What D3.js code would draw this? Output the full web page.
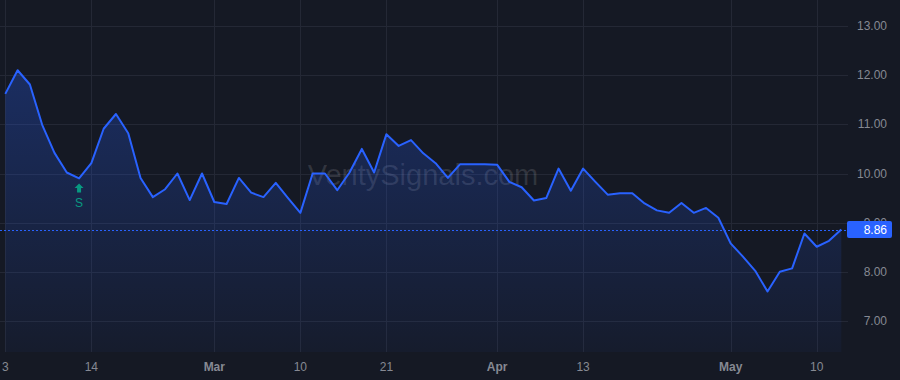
<!DOCTYPE html>
<html>
<head>
<meta charset="utf-8">
<script src="https://cdn.jsdelivr.net/npm/d3@7"></script>
<style>
  html, body { margin: 0; padding: 0; background: #151924; }
  svg { display: block; font-family: "Liberation Sans", Arial, sans-serif; }
</style>
</head>
<body>
<main></main>
<script>
const width = 900;
const height = 380;

// closing prices, one per bar
const values = [
  11.62, 12.10, 11.81, 10.99, 10.42, 10.02, 9.90, 10.21, 10.91, 11.21,
  10.82, 9.91, 9.52, 9.68, 10.00, 9.46, 10.00, 9.42, 9.38, 9.91,
  9.61, 9.52, 9.81, 9.50, 9.20, 10.00, 10.00, 9.66, 10.02, 10.50,
  10.02, 10.80, 10.56, 10.68, 10.41, 10.21, 9.91, 10.19, 10.19, 10.19,
  10.18, 9.83, 9.72, 9.45, 9.50, 10.10, 9.65, 10.10, 9.83, 9.57,
  9.60, 9.60, 9.39, 9.25, 9.20, 9.40, 9.20, 9.30, 9.10, 8.58,
  8.31, 8.02, 7.60, 8.00, 8.07, 8.78, 8.51, 8.63, 8.86
];

const tickIndex = [0, 7, 17, 24, 31, 40, 47, 59, 66];
const tickLabels = ['3', '14', 'Mar', '10', '21', 'Apr', '13', 'May', '10'];
const monthTicks = ['Mar', 'Apr', 'May'];

const priceTicks = [7, 8, 9, 10, 11, 12, 13];

const signalIndex = 6;
const signalLabel = 'S';
const lastPrice = 8.86;
const watermark = 'VeritySignals.com';

const plotRight = 848;
const plotBottom = 352;

const svg = d3.select('main')
              .append('svg')
              .attr('width', width)
              .attr('height', height);

svg.append('rect')
   .attr('width', width)
   .attr('height', height)
   .attr('fill', '#151924');

const xScale = d3.scaleLinear().domain([0, 66]).range([5.3, 816.7]);
const yScale = d3.scaleLinear().domain([7, 13]).range([321, 26]);

// gradient for the area
const defs = svg.append('defs');
const grad = defs.append('linearGradient')
                 .attr('id', 'areaFill')
                 .attr('x1', 0).attr('y1', 0)
                 .attr('x2', 0).attr('y2', 1);
grad.append('stop').attr('offset', '0%').attr('stop-color', '#2962ff').attr('stop-opacity', 0.28);
grad.append('stop').attr('offset', '100%').attr('stop-color', '#2962ff').attr('stop-opacity', 0.04);

// grid
svg.append('g')
   .selectAll('line')
   .data(priceTicks)
   .enter()
   .append('line')
   .attr('x1', 0)
   .attr('x2', plotRight)
   .attr('y1', d => Math.round(yScale(d)) + 0.5)
   .attr('y2', d => Math.round(yScale(d)) + 0.5)
   .attr('stroke', '#242835');

svg.append('g')
   .selectAll('line')
   .data(tickIndex)
   .enter()
   .append('line')
   .attr('x1', d => Math.round(xScale(d)) + 0.5)
   .attr('x2', d => Math.round(xScale(d)) + 0.5)
   .attr('y1', 0)
   .attr('y2', plotBottom)
   .attr('stroke', '#242835');

// watermark
svg.append('text')
   .attr('x', 423)
   .attr('y', 185)
   .attr('text-anchor', 'middle')
   .attr('font-size', 29)
   .attr('fill', '#ffffff')
   .attr('fill-opacity', 0.13)
   .text(watermark);

// area + line
const area = d3.area()
               .x((d, i) => xScale(i))
               .y0(plotBottom)
               .y1(d => yScale(d));

const line = d3.line()
               .x((d, i) => xScale(i))
               .y(d => yScale(d));

svg.append('path')
   .datum(values)
   .attr('d', area)
   .attr('fill', 'url(#areaFill)');

svg.append('path')
   .datum(values)
   .attr('d', line)
   .attr('fill', 'none')
   .attr('stroke', '#2962ff')
   .attr('stroke-width', 2)
   .attr('stroke-linejoin', 'round');

// last price dotted line
svg.append('line')
   .attr('x1', 0)
   .attr('x2', plotRight)
   .attr('y1', Math.round(yScale(lastPrice)) + 0.5)
   .attr('y2', Math.round(yScale(lastPrice)) + 0.5)
   .attr('stroke', '#2962ff')
   .attr('stroke-width', 1)
   .attr('stroke-dasharray', '2,2');

// signal marker
const sx = xScale(signalIndex);
const sy = yScale(values[signalIndex]);
svg.append('path')
   .attr('d', `M${sx},${sy + 5} L${sx + 4.5},${sy + 9.5} L${sx + 2},${sy + 9.5} L${sx + 2},${sy + 14} L${sx - 2},${sy + 14} L${sx - 2},${sy + 9.5} L${sx - 4.5},${sy + 9.5} Z`)
   .attr('fill', '#089981');
svg.append('text')
   .attr('x', sx)
   .attr('y', sy + 29)
   .attr('text-anchor', 'middle')
   .attr('font-size', 12)
   .attr('fill', '#089981')
   .text(signalLabel);

// right axis
const yAxis = svg.append('g').attr('id', 'y-axis');
yAxis.selectAll('text')
     .data(priceTicks)
     .enter()
     .append('text')
     .attr('x', 887)
     .attr('y', d => yScale(d) + 4)
     .attr('text-anchor', 'end')
     .attr('font-size', 12)
     .attr('fill', '#868993')
     .text(d => d.toFixed(2));

// last price label
const ly = yScale(lastPrice);
svg.append('rect')
   .attr('x', 847)
   .attr('y', ly - 8.5)
   .attr('width', 45)
   .attr('height', 17)
   .attr('rx', 2)
   .attr('fill', '#2962ff');
svg.append('text')
   .attr('x', 887)
   .attr('y', ly + 4)
   .attr('text-anchor', 'end')
   .attr('font-size', 12)
   .attr('fill', '#ffffff')
   .text(lastPrice.toFixed(2));

// bottom axis
const xAxis = svg.append('g').attr('id', 'x-axis');
xAxis.selectAll('text')
     .data(tickIndex)
     .enter()
     .append('text')
     .attr('x', d => xScale(d))
     .attr('y', 371)
     .attr('text-anchor', 'middle')
     .attr('font-size', 12)
     .attr('font-weight', (d, i) => monthTicks.includes(tickLabels[i]) ? 'bold' : 'normal')
     .attr('fill', '#868993')
     .text((d, i) => tickLabels[i]);
</script>
</body>
</html>
